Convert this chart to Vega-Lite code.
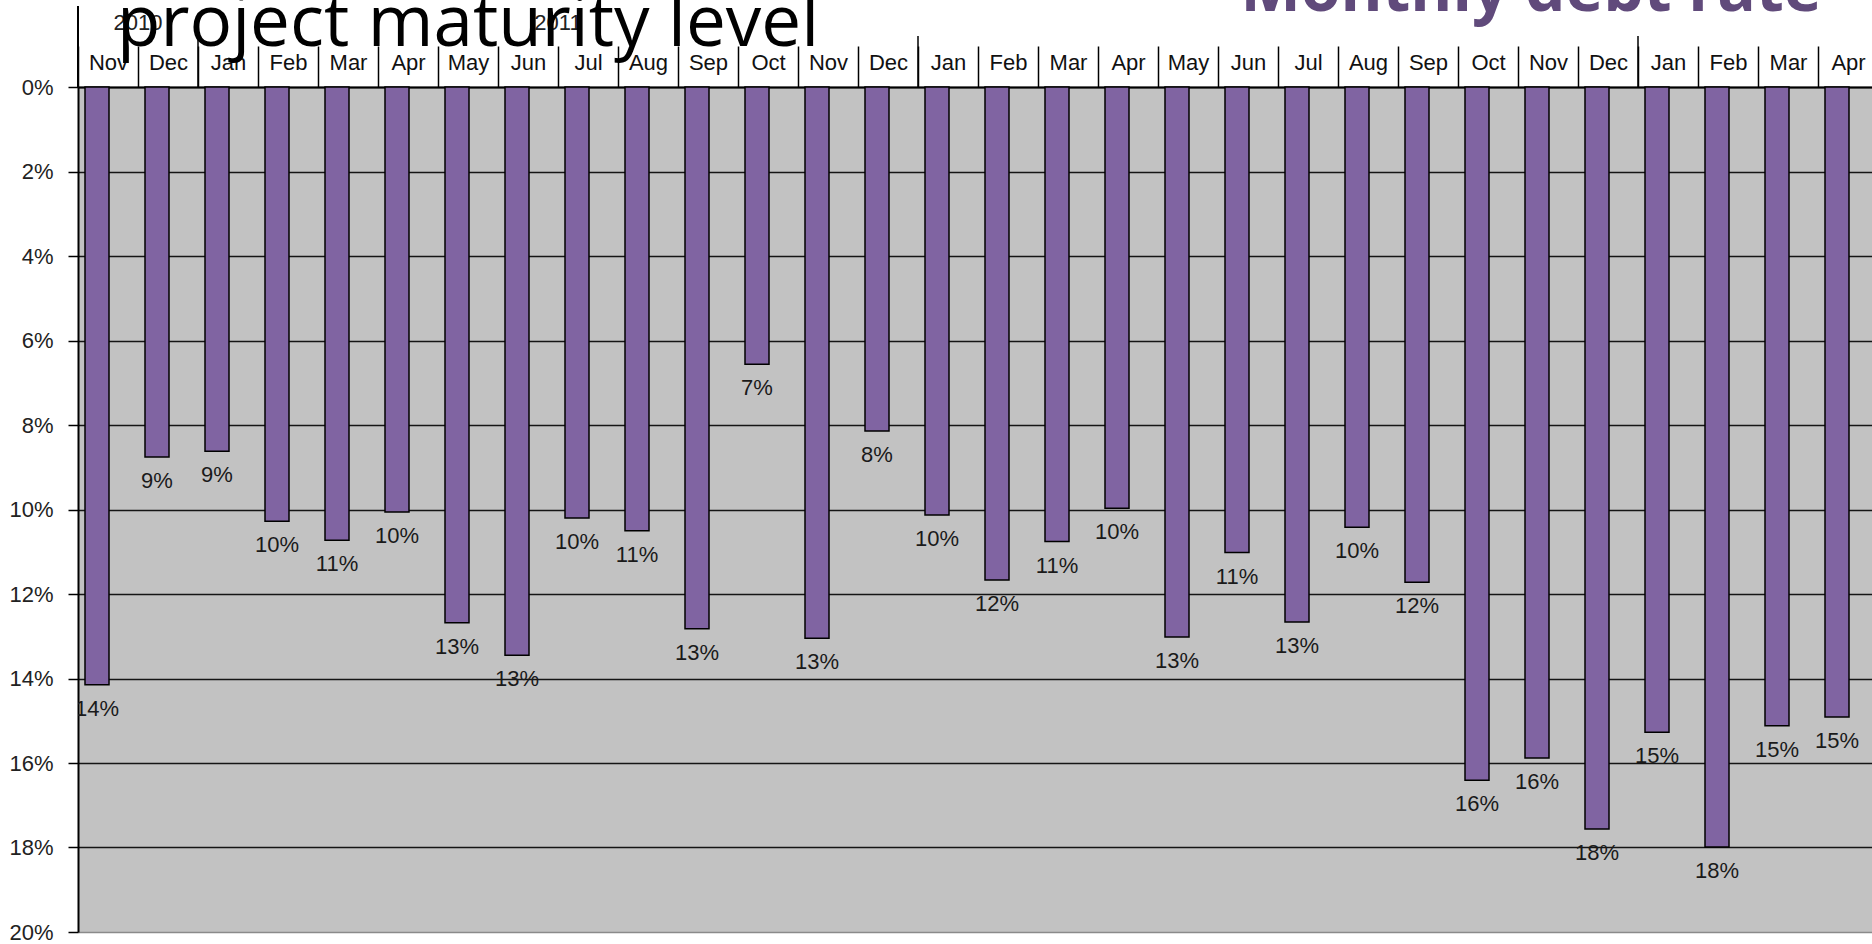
{
  "$schema": "https://vega.github.io/schema/vega-lite/v6.json",
  "autosize": {"type": "none"},
  "width": 1794,
  "height": 845,
  "padding": {"left": 78, "top": 87, "right": 0, "bottom": 12},
  "background": "white",
  "title": {
    "text": "project maturity level",
    "anchor": "start",
    "frame": "group",
    "font": "Open Sans",
    "fontSize": 71,
    "fontWeight": "normal",
    "color": "black",
    "baseline": "alphabetic",
    "offset": 0,
    "dx": 39,
    "dy": 158
  },
  "config": {
    "view": {"fill": "#c2c2c2", "stroke": null}
  },
  "datasets": {
    "rates": [
      {"month": "Nov 2010", "rate": 0.1415, "label": "14%"},
      {"month": "Dec 2010", "rate": 0.0876, "label": "9%"},
      {"month": "Jan 2011", "rate": 0.0862, "label": "9%"},
      {"month": "Feb 2011", "rate": 0.1028, "label": "10%"},
      {"month": "Mar 2011", "rate": 0.1073, "label": "11%"},
      {"month": "Apr 2011", "rate": 0.1006, "label": "10%"},
      {"month": "May 2011", "rate": 0.1268, "label": "13%"},
      {"month": "Jun 2011", "rate": 0.1345, "label": "13%"},
      {"month": "Jul 2011", "rate": 0.1020, "label": "10%"},
      {"month": "Aug 2011", "rate": 0.1050, "label": "11%"},
      {"month": "Sep 2011", "rate": 0.1282, "label": "13%"},
      {"month": "Oct 2011", "rate": 0.0656, "label": "7%"},
      {"month": "Nov 2011", "rate": 0.1305, "label": "13%"},
      {"month": "Dec 2011", "rate": 0.0814, "label": "8%"},
      {"month": "Jan 2012", "rate": 0.1013, "label": "10%"},
      {"month": "Feb 2012", "rate": 0.1167, "label": "12%"},
      {"month": "Mar 2012", "rate": 0.1076, "label": "11%"},
      {"month": "Apr 2012", "rate": 0.0997, "label": "10%"},
      {"month": "May 2012", "rate": 0.1302, "label": "13%"},
      {"month": "Jun 2012", "rate": 0.1102, "label": "11%"},
      {"month": "Jul 2012", "rate": 0.1266, "label": "13%"},
      {"month": "Aug 2012", "rate": 0.1042, "label": "10%"},
      {"month": "Sep 2012", "rate": 0.1172, "label": "12%"},
      {"month": "Oct 2012", "rate": 0.1641, "label": "16%"},
      {"month": "Nov 2012", "rate": 0.1588, "label": "16%"},
      {"month": "Dec 2012", "rate": 0.1756, "label": "18%"},
      {"month": "Jan 2013", "rate": 0.1527, "label": "15%"},
      {"month": "Feb 2013", "rate": 0.1799, "label": "18%"},
      {"month": "Mar 2013", "rate": 0.1512, "label": "15%"},
      {"month": "Apr 2013", "rate": 0.1491, "label": "15%"}
    ],
    "years": [
      {"year": "2010", "at": "Dec 2010"},
      {"year": "2011", "at": "Jul 2011"}
    ],
    "yearStarts": [
      {"at": "Jan 2011"},
      {"at": "Jan 2012"},
      {"at": "Jan 2013"}
    ],
    "tableStart": [
      {"at": "Nov 2010"}
    ]
  },
  "layer": [
    {
      "data": {"name": "rates"},
      "mark": {"type": "bar", "fill": "#8064a2", "stroke": "black", "strokeWidth": 1.5, "width": {"band": 0.4}, "xOffset": -11},
      "encoding": {
        "x": {
          "field": "month",
          "type": "nominal",
          "scale": {
            "type": "band",
            "domain": ["Nov 2010","Dec 2010","Jan 2011","Feb 2011","Mar 2011","Apr 2011","May 2011","Jun 2011","Jul 2011","Aug 2011","Sep 2011","Oct 2011","Nov 2011","Dec 2011","Jan 2012","Feb 2012","Mar 2012","Apr 2012","May 2012","Jun 2012","Jul 2012","Aug 2012","Sep 2012","Oct 2012","Nov 2012","Dec 2012","Jan 2013","Feb 2013","Mar 2013","Apr 2013"],
            "range": [0, 1800],
            "paddingInner": 0,
            "paddingOuter": 0
          },
          "axis": {
            "orient": "top",
            "title": null,
            "tickBand": "extent",
            "tickSize": 41,
            "tickWidth": 1.5,
            "tickColor": "black",
            "domainColor": "black",
            "domainWidth": 2,
            "labelExpr": "isString(datum.value) ? split(datum.value, ' ')[0] : ''",
            "labelFont": "Liberation Sans",
            "labelFontSize": 22,
            "labelColor": "#111111",
            "labelAngle": 0,
            "labelPadding": -23,
            "labelBaseline": "alphabetic",
            "grid": false
          }
        },
        "y": {
          "field": "rate",
          "type": "quantitative",
          "scale": {"domain": [0, 0.2], "reverse": true, "nice": false},
          "axis": {
            "values": [0, 0.02, 0.04, 0.06, 0.08, 0.1, 0.12, 0.14, 0.16, 0.18, 0.2],
            "format": ".0%",
            "labelFont": "Liberation Sans",
            "labelFontSize": 22,
            "labelColor": "#222222",
            "labelPadding": 15,
            "labelBaseline": "middle",
            "tickSize": 10,
            "tickWidth": 1.5,
            "tickColor": "black",
            "domainColor": "black",
            "domainWidth": 2,
            "grid": true,
            "gridColor": {"condition": {"test": "datum.value >= 0.2", "value": "#8a8a8a"}, "value": "#151515"},
            "gridWidth": 1.5,
            "title": "Monthly debt rate",
            "titleAngle": 0,
            "titleAlign": "right",
            "titleBaseline": "alphabetic",
            "titleX": 1743,
            "titleY": -77,
            "titleFont": "Open Sans",
            "titleFontSize": 64,
            "titleFontWeight": "bold",
            "titleColor": "#604a7b"
          }
        }
      }
    },
    {
      "data": {"name": "rates"},
      "mark": {"type": "text", "baseline": "top", "dy": 14, "xOffset": -11, "font": "Liberation Sans", "fontSize": 22, "color": "#1a1a1a", "clip": true},
      "encoding": {
        "x": {"field": "month", "type": "nominal"},
        "y": {"field": "rate", "type": "quantitative"},
        "text": {"field": "label", "type": "nominal"}
      }
    },
    {
      "data": {"name": "years"},
      "mark": {"type": "text", "baseline": "alphabetic", "align": "center", "font": "Liberation Sans", "fontSize": 22, "color": "#222222"},
      "encoding": {
        "x": {"field": "at", "type": "nominal", "bandPosition": 0},
        "y": {"datum": -0.0135},
        "text": {"field": "year", "type": "nominal"}
      }
    },
    {
      "data": {"name": "yearStarts"},
      "mark": {"type": "rule", "color": "black", "strokeWidth": 1.5},
      "encoding": {
        "x": {"field": "at", "type": "nominal", "bandPosition": 0},
        "y": {"datum": -0.0121},
        "y2": {"datum": 0}
      }
    },
    {
      "data": {"name": "tableStart"},
      "mark": {"type": "rule", "color": "black", "strokeWidth": 2},
      "encoding": {
        "x": {"field": "at", "type": "nominal", "bandPosition": 0},
        "y": {"datum": -0.0192},
        "y2": {"datum": 0}
      }
    }
  ]
}
